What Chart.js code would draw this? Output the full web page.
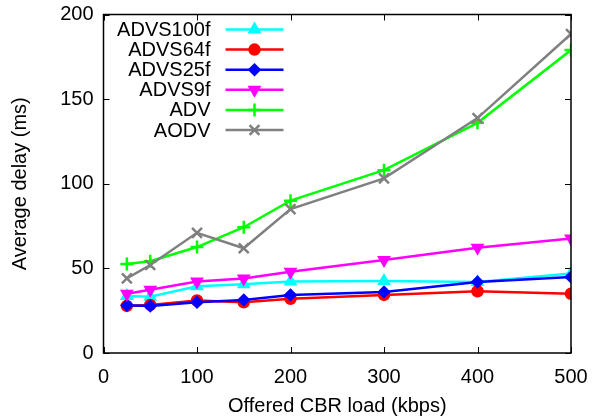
<!DOCTYPE html>
<html lang="en">
<head>
<meta charset="UTF-8">
<title>Average delay vs offered CBR load</title>
<script src="https://cdn.jsdelivr.net/npm/chart.js@4.4.1/dist/chart.umd.min.js"></script>
<style>
  html, body { margin: 0; padding: 0; background: #fff; }
  #wrap { width: 600px; height: 420px; }
</style>
</head>
<body>
<div id="wrap"><canvas id="delayChart" width="600" height="420"></canvas></div>
<script>
// offered load (kbps)
const loads = [25, 50, 100, 150, 200, 300, 400, 500];

// average delay (ms) per protocol
const advs100f = [33.7, 33.3, 39.4, 40.6, 42.2, 42.5, 42.0, 47.0];
const advs64f  = [27.8, 28.4, 31.0, 30.0, 32.0, 34.3, 36.5, 35.0];
const advs25f  = [28.2, 27.8, 30.0, 31.3, 34.3, 36.0, 42.0, 44.9];
const advs9f   = [35.0, 37.4, 42.2, 44.0, 48.0, 55.0, 62.2, 67.6];
const adv      = [52.6, 54.2, 62.6, 74.3, 90.0, 108.0, 136.0, 179.0];
const aodv     = [44.1, 52.0, 71.0, 61.9, 85.0, 103.2, 138.8, 188.5];

const xTicks = [0, 100, 200, 300, 400, 500];
const yTicks = [0, 50, 100, 150, 200];

const seriesNames = ['ADVS100f', 'ADVS64f', 'ADVS25f', 'ADVS9f', 'ADV', 'AODV'];
const seriesData = [advs100f, advs64f, advs25f, advs9f, adv, aodv];
const colors = ['#00ffff', '#ff0000', '#0000ff', '#ff00ff', '#00ff00', '#808080'];
const markers = [
  { pointStyle: 'triangle', radius: 5.5, rotation: 0 },
  { pointStyle: 'circle', radius: 5, rotation: 0 },
  { pointStyle: 'rectRot', radius: 5, rotation: 0 },
  { pointStyle: 'triangle', radius: 5.5, rotation: 180 },
  { pointStyle: 'cross', radius: 6.5, rotation: 0 },
  { pointStyle: 'crossRot', radius: 7, rotation: 0 }
];

const FONT = "'Liberation Sans', Arial, Helvetica, sans-serif";

const datasets = seriesNames.map((name, i) => ({
  label: name,
  data: loads.map((x, j) => ({ x: x, y: seriesData[i][j] })),
  borderColor: colors[i],
  backgroundColor: colors[i],
  borderWidth: 2.5,
  pointStyle: markers[i].pointStyle,
  pointRadius: markers[i].radius,
  pointRotation: markers[i].rotation,
  pointBorderWidth: 2.5,
  tension: 0,
  order: seriesNames.length - 1 - i
}));

// frame with inward ticks on all four sides
const framePlugin = {
  id: 'frame',
  afterDatasetsDraw(chart) {
    const { ctx, chartArea: a, scales } = chart;
    const len = 6;
    ctx.save();
    ctx.strokeStyle = '#000';
    ctx.lineWidth = 1;
    ctx.beginPath();
    xTicks.forEach(v => {
      const px = Math.round(scales.x.getPixelForValue(v)) + 0.5;
      ctx.moveTo(px, a.bottom); ctx.lineTo(px, a.bottom - len);
      ctx.moveTo(px, a.top); ctx.lineTo(px, a.top + len);
    });
    yTicks.forEach(v => {
      const py = Math.round(scales.y.getPixelForValue(v)) + 0.5;
      ctx.moveTo(a.left, py); ctx.lineTo(a.left + len, py);
      ctx.moveTo(a.right, py); ctx.lineTo(a.right - len, py);
    });
    ctx.stroke();
    ctx.lineWidth = 1.5;
    ctx.strokeRect(a.left, a.top, a.right - a.left, a.bottom - a.top);
    ctx.restore();
  }
};

// key in the upper left, text right-aligned before each sample
const keyPlugin = {
  id: 'key',
  afterDatasetsDraw(chart) {
    const { ctx, chartArea: a } = chart;
    const textRight = a.left + 107;
    const lineX0 = a.left + 122;
    const lineX1 = a.left + 180;
    const y0 = a.top + 15;
    const step = 20.1;
    ctx.save();
    ctx.font = '20px ' + FONT;
    ctx.textAlign = 'right';
    ctx.textBaseline = 'middle';
    chart.data.datasets.forEach((ds, i) => {
      const y = y0 + i * step;
      ctx.fillStyle = '#000';
      ctx.fillText(ds.label, textRight, y + 1);
      ctx.strokeStyle = ds.borderColor;
      ctx.fillStyle = ds.backgroundColor;
      ctx.lineWidth = ds.borderWidth;
      ctx.beginPath();
      ctx.moveTo(lineX0, y);
      ctx.lineTo(lineX1, y);
      ctx.stroke();
      Chart.helpers.drawPoint(ctx, {
        pointStyle: ds.pointStyle,
        radius: ds.pointRadius,
        rotation: ds.pointRotation,
        borderWidth: ds.pointBorderWidth
      }, (lineX0 + lineX1) / 2, y);
    });
    ctx.restore();
  }
};

new Chart(document.getElementById('delayChart'), {
  type: 'line',
  data: { datasets: datasets },
  options: {
    responsive: false,
    animation: false,
    layout: { padding: { left: 0, top: 14.5, right: 29, bottom: 0 } },
    plugins: {
      legend: { display: false },
      tooltip: { enabled: false }
    },
    scales: {
      x: {
        type: 'linear',
        min: 0,
        max: 500,
        afterBuildTicks(scale) { scale.ticks = xTicks.map(v => ({ value: v })); },
        afterFit(scale) {
          scale.height = 67;
          scale.paddingLeft = 0;
          scale.paddingRight = 0;
        },
        grid: { display: false, drawTicks: false },
        border: { display: false },
        ticks: { color: '#000', font: { family: FONT, size: 20 }, padding: 12, maxRotation: 0 },
        title: {
          display: true,
          text: 'Offered CBR load (kbps)',
          color: '#000',
          font: { family: FONT, size: 20 },
          padding: { top: 0, bottom: 2 }
        }
      },
      y: {
        min: 0,
        max: 200,
        afterBuildTicks(scale) { scale.ticks = yTicks.map(v => ({ value: v })); },
        afterFit(scale) {
          scale.width = 103.5;
          scale.paddingTop = 0;
          scale.paddingBottom = 0;
        },
        grid: { display: false, drawTicks: false },
        border: { display: false },
        ticks: { color: '#000', font: { family: FONT, size: 20 }, padding: 10 },
        title: {
          display: true,
          text: 'Average delay (ms)',
          color: '#000',
          font: { family: FONT, size: 20 },
          padding: { top: 8, bottom: 0 }
        }
      }
    }
  },
  plugins: [framePlugin, keyPlugin]
});
</script>
</body>
</html>
